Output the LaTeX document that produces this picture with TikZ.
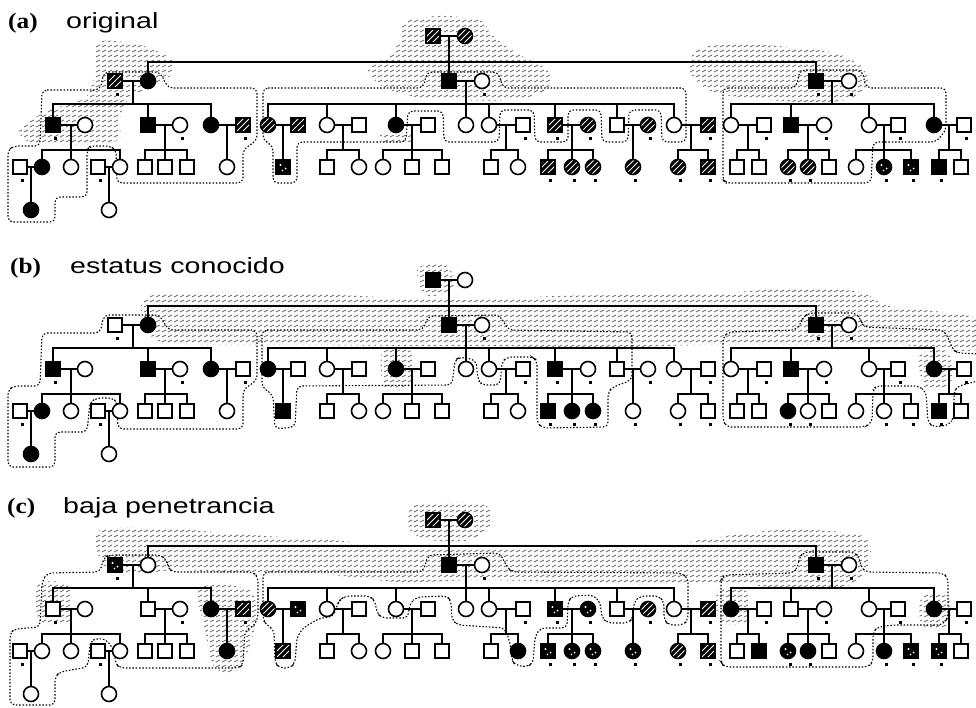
\documentclass[tikz,border=0pt]{standalone}
\usepackage{fontspec}
\usepackage{graphicx}
\setmainfont{Liberation Serif}
\newfontfamily\ttlsans{Liberation Sans}
\usetikzlibrary{calc,patterns.meta}

\tikzdeclarepattern{
  name=scrib,
  type=uncolored,
  bottom left={(-1pt,-1pt)},
  top right={(7pt,6pt)},
  tile size={(6pt,5pt)},
  code={%
    \pgfsetlinewidth{0.85pt}%
    \pgfpathmoveto{\pgfqpoint{0pt}{0pt}}%
    \pgfpathlineto{\pgfqpoint{4pt}{2pt}}%
    \pgfusepath{stroke}%
  }
}

\newcommand\M[3]{\node[msq, s#1/.try] (\P-#1) at (#2,{#3+\dy}) {};}
\newcommand\F[3]{\node[fci, s#1/.try] (\P-#1) at (#2,{#3+\dy}) {};}
\newcommand\C[3]{\coordinate (\P-#1) at (#2,{#3+\dy});}
\newcommand\sib[5]{%
  \draw[ln] (\P-#1) -- (\P-#1 |- \P-#2);
  \draw[ln] (\P-#3 |- \P-#2) -- (\P-#4 |- \P-#2);
  \foreach \c in {#5}{\draw[ln] (\P-\c) -- (\P-\c |- \P-#2);}
}

\newcommand\pedigree[2]{%
\def\P{#1}\def\dy{#2}%
% generation I
\M{I1}{433}{36}\F{I2}{465}{36}
% generation II
\M{II1}{115}{81}\F{II2}{148}{81}\M{II3}{449}{81}\F{II4}{482}{81}\M{II5}{816}{81}\F{II6}{849}{81}
% generation III
\M{III1}{53}{125}\F{III2}{85}{125}\M{III3}{148}{125}\F{III4}{180}{125}\F{III5}{211}{125}\M{III6}{243}{125}
\F{III7}{268}{125}\M{III8}{298}{125}\F{III9}{327}{125}\M{III10}{359}{125}\F{III11}{396}{125}\M{III12}{428}{125}
\F{III13}{466}{125}\F{III14}{489}{125}\M{III15}{523}{125}\M{III16}{555}{125}\F{III17}{588}{125}\M{III18}{617}{125}
\F{III19}{648}{125}\F{III20}{674}{125}\M{III21}{708}{125}\F{III22}{731}{125}\M{III23}{764}{125}\M{III24}{791}{125}
\F{III25}{824}{125}\F{III26}{869}{125}\M{III27}{898}{125}\F{III28}{934}{125}\M{III29}{964}{125}
% generation IV
\M{IV1}{20}{167}\F{IV2}{42}{167}\F{IV3}{71}{167}\M{IV4}{98}{167}\F{IV5}{120}{167}
\M{IV6}{145}{167}\M{IV7}{165}{167}\M{IV8}{187}{167}\F{IV9}{227}{167}\M{IV10}{283}{167}
\M{IV11}{327}{167}\F{IV12}{359}{167}\F{IV13}{383}{167}\M{IV14}{412}{167}\M{IV15}{442}{167}
\M{IV16}{491}{167}\F{IV17}{518}{167}\M{IV18}{548}{167}\F{IV19}{572}{167}\F{IV20}{593}{167}
\F{IV21}{633}{167}\F{IV22}{678}{167}\M{IV23}{708}{167}\M{IV24}{737}{167}\M{IV25}{759}{167}
\F{IV26}{788}{167}\F{IV27}{808}{167}\M{IV28}{829}{167}\F{IV29}{856}{167}\F{IV30}{884}{167}
\M{IV31}{911}{167}\M{IV32}{939}{167}\M{IV33}{961}{167}
% generation V
\F{V1}{31}{210}\F{V2}{109}{210}
% descent points and sibship bars
\C{dI}{449}{36}\C{dII1}{133}{81}\C{dII3}{466}{81}\C{dII5}{832}{81}
\C{dIII1}{71}{125}\C{dIII3}{165}{125}\C{dIII5}{227}{125}\C{dIII7}{283}{125}\C{dIII9}{343}{125}
\C{dIII11}{412}{125}\C{dIII14}{506}{125}\C{dIII16}{572}{125}\C{dIII18}{633}{125}\C{dIII20}{691}{125}
\C{dIII22}{748}{125}\C{dIII24}{808}{125}\C{dIII26}{884}{125}\C{dIII28}{949}{125}
\C{dIV1}{31}{167}\C{dIV4}{109}{167}
\C{b1}{0}{62}\C{b2}{0}{104}\C{b3}{0}{150}
% marriages
\foreach \a/\b in {I1/I2,II1/II2,II3/II4,II5/II6,III1/III2,III3/III4,III5/III6,III7/III8,III9/III10,III11/III12,III14/III15,III16/III17,III18/III19,III20/III21,III22/III23,III24/III25,III26/III27,III28/III29,IV1/IV2,IV4/IV5}
  {\draw[ln] (\P-\a) -- (\P-\b);}
% sibships
\sib{dI}{b1}{II2}{II5}{II2,II3,II5}
\sib{dII1}{b2}{III1}{III5}{III1,III3,III5}
\sib{dII3}{b2}{III7}{III20}{III7,III9,III11,III13,III14,III16,III18,III20}
\sib{dII5}{b2}{III22}{III28}{III22,III24,III26,III28}
\sib{dIII1}{b3}{IV2}{IV5}{IV2,IV3,IV5}
\sib{dIII3}{b3}{IV6}{IV8}{IV6,IV7,IV8}
\sib{dIII9}{b3}{IV11}{IV12}{IV11,IV12}
\sib{dIII11}{b3}{IV13}{IV15}{IV13,IV14,IV15}
\sib{dIII14}{b3}{IV16}{IV17}{IV16,IV17}
\sib{dIII16}{b3}{IV18}{IV20}{IV18,IV19,IV20}
\sib{dIII20}{b3}{IV22}{IV23}{IV22,IV23}
\sib{dIII22}{b3}{IV24}{IV25}{IV24,IV25}
\sib{dIII24}{b3}{IV26}{IV28}{IV26,IV27,IV28}
\sib{dIII26}{b3}{IV29}{IV31}{IV29,IV30,IV31}
\sib{dIII28}{b3}{IV32}{IV33}{IV32,IV33}
\draw[ln] (\P-dIII5) -- (\P-IV9);
\draw[ln] (\P-dIII7) -- (\P-IV10);
\draw[ln] (\P-dIII18) -- (\P-IV21);
\draw[ln] (\P-dIV1) -- (\P-V1);
\draw[ln] (\P-dIV4) -- (\P-V2);
% small marks
\foreach \n in {II1,II4,II5,II6,III1,III4,III6,III15,III16,III17,III19,III21,III23,III25,III27,III29,IV1,IV4,IV18,IV19,IV20,IV21,IV22,IV23,IV26,IV27,IV30,IV31,IV32}
  {\node[tk] (\P-\n-t) at ($(\P-\n)+(2,13)$) {};}
}

\begin{document}
\begin{tikzpicture}[x=1pt,y=-1pt,
  ln/.style={line width=1.9pt, line cap=rect},
  sym/.style={draw, line width=1.6pt, inner sep=0pt, fill=white},
  msq/.style={sym, rectangle, minimum size=14pt},
  fci/.style={sym, circle, minimum size=15pt},
  aff/.style={fill=black},
  hat/.style={fill=black, path picture={\foreach \k in {-6,0,6}{\draw[white,line width=1.0pt] ([xshift=\k]path picture bounding box.south west) -- ([xshift=\k]path picture bounding box.north east);}}},
  spk/.style={fill=black, path picture={\fill[white] ([shift={(-2.5,-2)}]path picture bounding box.center) circle (1.1); \fill[white] ([shift={(2.5,1.5)}]path picture bounding box.center) circle (1.0); \fill[white] ([shift={(-0.5,3.5)}]path picture bounding box.center) circle (0.8);}},
  tk/.style={fill=black, inner sep=0pt, minimum size=3pt, rectangle},
  cont/.style={draw, line width=1.1pt, dash pattern=on 1.5pt off 1.8pt, rounded corners=5pt},
  shd/.style={pattern=scrib, pattern color=black!60},
  ttl/.style={anchor=base west, inner sep=0pt}]
\useasboundingbox (0,0) rectangle (976,707);

% ---------- titles
\node[ttl] (ta) at (8,28) {\fontsize{22}{26}\selectfont\bfseries\scalebox{1.15}[1]{(a)}};
\node[ttl] (tat) at (66,28) {\ttlsans\fontsize{22}{26}\selectfont\scalebox{1.3}[1]{original}};
\node[ttl] (tb) at (10,273) {\fontsize{22}{26}\selectfont\bfseries\scalebox{1.15}[1]{(b)}};
\node[ttl] (tbt) at (70,273) {\ttlsans\fontsize{22}{26}\selectfont\scalebox{1.3}[1]{estatus conocido}};
\node[ttl] (tc) at (7,513) {\fontsize{22}{26}\selectfont\bfseries\scalebox{1.15}[1]{(c)}};
\node[ttl] (tct) at (63,513) {\ttlsans\fontsize{22}{26}\selectfont\scalebox{1.3}[1]{baja penetrancia}};

% ================= panel (a)
\path[shd] plot[smooth cycle] coordinates {(405,22) (440,16) (480,20) (492,35) (520,55) (548,70) (545,92) (505,100) (460,100) (420,98) (385,88) (368,70) (390,55) (400,40)};
\path[shd] plot[smooth cycle] coordinates {(98,42) (140,45) (172,60) (168,78) (130,98) (120,118) (118,140) (80,145) (30,142) (20,128) (50,110) (85,98) (96,70)};
\path[shd] plot[smooth cycle] coordinates {(700,48) (760,45) (830,52) (860,65) (868,85) (845,100) (800,102) (750,98) (712,92) (690,72)};
\path[shd] plot[smooth cycle] coordinates {(382,133) (412,133) (410,143) (384,143)};
\draw[cont] (42,90) -- (100,90) -- (104,72) -- (160,72) -- (168,88) -- (257,88) -- (257,140) -- (243,150) -- (243,183) -- (117,183) -- (116,150) -- (110,146) -- (90,146) -- (87,150) -- (87,197) -- (55,197) -- (55,222) -- (8,222) -- (8,150) -- (14,146) -- (40,146) -- cycle;
\draw[cont] (263,88) -- (423,88) -- (427,72) -- (498,72) -- (503,88) -- (686,88) -- (686,142) -- (662,142) -- (661,110) -- (629,110) -- (628,142) -- (602,142) -- (601,110) -- (568,110) -- (568,142) -- (535,142) -- (534,110) -- (500,110) -- (499,142) -- (444,142) -- (443,111) -- (408,111) -- (406,142) -- (297,142) -- (297,183) -- (273,183) -- (273,146) -- (263,140) -- cycle;
\draw[cont] (723,88) -- (796,88) -- (800,70) -- (862,70) -- (866,88) -- (946,88) -- (946,130) -- (936,142) -- (873,142) -- (871,183) -- (726,183) -- (723,180) -- cycle;
\begin{scope}
\tikzset{sI1/.style=hat,sI2/.style=hat,sII1/.style=hat,sII2/.style=aff,sII3/.style=aff,sII5/.style=aff,
sIII1/.style=aff,sIII3/.style=aff,sIII5/.style=aff,sIII6/.style=hat,sIII7/.style=hat,sIII8/.style=hat,sIII11/.style=aff,
sIII16/.style=hat,sIII17/.style=hat,sIII19/.style=hat,sIII21/.style=hat,sIII24/.style=aff,sIII28/.style=aff,
sIV2/.style=aff,sIV10/.style=spk,sIV18/.style=hat,sIV19/.style=hat,sIV20/.style=hat,sIV21/.style=hat,sIV22/.style=hat,
sIV23/.style=hat,sIV26/.style=hat,sIV27/.style=hat,sIV30/.style=spk,sIV31/.style=spk,sIV32/.style=aff,sV1/.style=aff}
\pedigree{a}{0}
\end{scope}

% ================= panel (b)
\path[shd] plot[smooth cycle] coordinates {(418,268) (448,266) (452,290) (425,295)};
\path[shd] plot[smooth cycle] coordinates {(150,296) (260,292) (400,298) (470,300) (560,296) (700,294) (800,288) (860,292) (890,306) (976,318) (976,350) (900,345) (800,345) (700,345) (600,348) (500,346) (420,346) (300,345) (200,345) (160,342) (145,325)};
\path[shd] plot[smooth cycle] coordinates {(383,350) (410,350) (414,380) (400,390) (383,385)};
\path[shd] plot[smooth cycle] coordinates {(920,355) (948,352) (950,385) (925,388)};
\draw[cont] (42,333) -- (100,333) -- (104,315) -- (160,315) -- (168,330) -- (257,330) -- (257,380) -- (243,390) -- (243,429) -- (118,429) -- (117,403) -- (113,398) -- (97,398) -- (90,402) -- (87,432) -- (55,432) -- (55,467) -- (8,467) -- (8,390) -- (14,386) -- (40,386) -- cycle;
\draw[cont] (262,330) -- (423,330) -- (428,316) -- (500,315) -- (508,330) -- (632,332) -- (632,380) -- (613,387) -- (608,392) -- (608,427) -- (543,428) -- (537,423) -- (537,360) -- (532,357) -- (507,357) -- (502,362) -- (500,385) -- (482,385) -- (478,380) -- (476,360) -- (460,357) -- (455,360) -- (452,385) -- (297,386) -- (295,427) -- (275,429) -- (273,395) -- (262,387) -- cycle;
\draw[cont] (723,337) -- (729,332) -- (796,330) -- (801,323) -- (803,317) -- (809,313) -- (856,313) -- (861,320) -- (863,327) -- (943,330) -- (948,337) -- (953,350) -- (958,353) -- (982,354) -- (982,380) -- (958,386) -- (954,392) -- (954,417) -- (949,425) -- (933,427) -- (928,422) -- (926,392) -- (919,386) -- (876,386) -- (873,390) -- (872,423) -- (864,427) -- (726,427) -- (723,420) -- cycle;
\begin{scope}
\tikzset{sI1/.style=aff,sII2/.style=aff,sII3/.style=aff,sII5/.style=aff,sIII1/.style=aff,sIII3/.style=aff,sIII5/.style=aff,
sIII7/.style=aff,sIII11/.style=aff,sIII16/.style=aff,sIII24/.style=aff,sIII28/.style=aff,sIV2/.style=aff,sIV10/.style=aff,
sIV18/.style=aff,sIV19/.style=aff,sIV20/.style=aff,sIV26/.style=aff,sIV32/.style=aff,sV1/.style=aff}
\pedigree{b}{244}
\end{scope}

% ================= panel (c)
\path[shd] plot[smooth cycle] coordinates {(412,507) (445,502) (485,505) (492,525) (470,540) (430,540) (410,530)};
\path[shd] plot[smooth cycle] coordinates {(100,530) (160,528) (250,535) (330,540) (420,548) (520,548) (600,545) (660,548) (700,540) (780,530) (860,535) (870,560) (850,585) (800,590) (720,582) (640,585) (560,582) (480,580) (400,582) (330,575) (260,575) (180,570) (120,575) (100,560)};
\path[shd] plot[smooth cycle] coordinates {(200,588) (250,590) (255,625) (240,668) (215,668) (205,630)};
\path[shd] plot[smooth cycle] coordinates {(38,585) (68,585) (70,620) (40,622)};
\path[shd] plot[smooth cycle] coordinates {(718,590) (746,590) (746,622) (720,622)};
\path[shd] plot[smooth cycle] coordinates {(922,597) (948,597) (948,625) (922,625)};
\draw[cont] (42,582) -- (47,573) -- (100,572) -- (104,557) -- (110,555) -- (160,555) -- (167,560) -- (168,567) -- (172,572) -- (253,572) -- (258,577) -- (258,618) -- (253,627) -- (245,630) -- (243,665) -- (238,668) -- (120,668) -- (115,663) -- (115,652) -- (107,640) -- (97,638) -- (90,642) -- (88,667) -- (60,672) -- (55,677) -- (55,705) -- (10,705) -- (10,633) -- (15,629) -- (40,627) -- cycle;
\draw[cont] (263,572) -- (423,572) -- (428,555) -- (500,553) -- (507,567) -- (512,572) -- (681,573) -- (688,578) -- (688,620) -- (683,625) -- (669,625) -- (664,620) -- (664,602) -- (659,596) -- (640,596) -- (634,602) -- (633,618) -- (628,623) -- (608,623) -- (602,618) -- (600,602) -- (593,595) -- (572,596) -- (568,602) -- (567,628) -- (540,628) -- (535,637) -- (533,663) -- (527,667) -- (515,665) -- (512,660) -- (510,643) -- (505,628) -- (458,625) -- (452,620) -- (451,601) -- (447,596) -- (417,597) -- (410,603) -- (408,618) -- (382,618) -- (377,613) -- (375,601) -- (370,596) -- (345,596) -- (340,600) -- (338,603) -- (333,617) -- (320,618) -- (303,628) -- (297,637) -- (295,663) -- (290,668) -- (280,668) -- (275,663) -- (274,630) -- (267,625) -- (263,620) -- cycle;
\draw[cont] (721,580) -- (724,575) -- (793,573) -- (798,567) -- (799,558) -- (804,552) -- (854,552) -- (859,557) -- (861,567) -- (866,572) -- (943,573) -- (948,578) -- (948,617) -- (943,625) -- (893,625) -- (878,627) -- (873,632) -- (873,662) -- (868,667) -- (724,667) -- (721,662) -- cycle;
\begin{scope}
\tikzset{sI1/.style=hat,sI2/.style=hat,sII1/.style=spk,sII3/.style=aff,sII5/.style=aff,sIII5/.style=aff,sIII6/.style=hat,
sIII7/.style=hat,sIII8/.style=spk,sIII16/.style=spk,sIII17/.style=spk,sIII19/.style=hat,sIII21/.style=hat,sIII22/.style=aff,
sIII28/.style=aff,sIV9/.style=aff,sIV10/.style=hat,sIV17/.style=aff,sIV18/.style=spk,sIV19/.style=spk,sIV20/.style=spk,
sIV21/.style=spk,sIV22/.style=hat,sIV23/.style=hat,sIV25/.style=aff,sIV26/.style=spk,sIV27/.style=aff,sIV30/.style=aff,
sIV31/.style=spk,sIV32/.style=spk}
\pedigree{c}{484}
\end{scope}
\end{tikzpicture}
\end{document}
